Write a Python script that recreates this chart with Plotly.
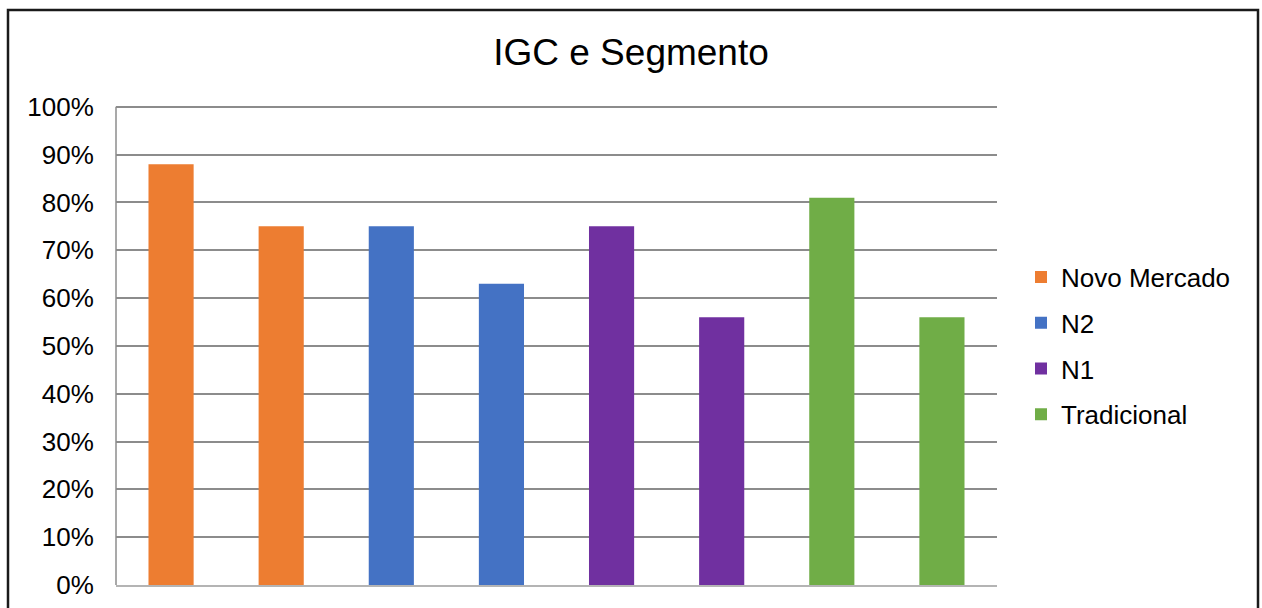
import plotly.graph_objects as go

# Segment shares of IGC companies, two bars per listing segment
series_names = ["Novo Mercado", "N2", "N1", "Tradicional"]
series_colors = ["#ED7D31", "#4472C4", "#7030A0", "#70AD47"]
categories = [1, 2, 3, 4, 5, 6, 7, 8]
series_x = [[1, 2], [3, 4], [5, 6], [7, 8]]
series_values = [[0.88, 0.75], [0.75, 0.63], [0.75, 0.56], [0.81, 0.56]]
y_ticks = [0, 0.1, 0.2, 0.3, 0.4, 0.5, 0.6, 0.7, 0.8, 0.9, 1.0]
y_tick_labels = ["0%", "10%", "20%", "30%", "40%", "50%", "60%", "70%", "80%", "90%", "100%"]

W, H = 1262, 608
Y_MAX = 1.01  # a little headroom so the 100% gridline is drawn
L, R, B = 116, 265, 23
T = round(H - B - 478 * Y_MAX)

fig = go.Figure()
for i, (name, color, xs, vals) in enumerate(zip(series_names, series_colors, series_x, series_values)):
    fig.add_trace(go.Bar(
        x=xs, y=vals, name=name, marker=dict(color=color, line=dict(width=0)),
        width=0.41, legendgroup=name,
    ))

pw = W - L - R
ph = H - T - B

def px_to_paper_x(px):
    return (px - L) / pw

def px_to_paper_y(py):
    return (H - B - py) / ph

fig.update_layout(
    width=W, height=H,
    margin=dict(l=L, r=R, t=T, b=B, autoexpand=False),
    paper_bgcolor="white", plot_bgcolor="white",
    barmode="overlay",
    font=dict(family="Arial, Liberation Sans, sans-serif", color="#000000", size=26),
    title=dict(text="IGC e Segmento", x=0.5, xanchor="center", xref="container",
               y=1 - 52 / H, yanchor="middle", yref="container",
               font=dict(size=37, color="#000000")),
    xaxis=dict(range=[0.5, 8.5], tickvals=categories, showticklabels=False,
               showgrid=False, zeroline=False, showline=True,
               linecolor="#b4b4b4", linewidth=2, ticks=""),
    yaxis=dict(range=[0, Y_MAX], tickvals=y_ticks, ticktext=y_tick_labels,
               showgrid=True, gridcolor="#8c8c8c", gridwidth=1.5,
               zeroline=False, showline=False,
               ticks="outside", ticklen=16, tickcolor="rgba(0,0,0,0)",
               tickfont=dict(size=26)),
    legend=dict(x=px_to_paper_x(1021), xanchor="left",
                y=px_to_paper_y(346), yanchor="middle",
                font=dict(size=26), tracegroupgap=9,
                traceorder="grouped", bgcolor="rgba(0,0,0,0)"),
    showlegend=True,
)

# Left value axis line, from 0% to 100%
fig.add_shape(type="line", xref="paper", yref="y", x0=0, x1=0, y0=0, y1=1.0,
              line=dict(color="#8c8c8c", width=1.5), layer="below")

# Chart frame around the whole figure
fig.add_shape(type="rect", xref="paper", yref="paper",
              x0=px_to_paper_x(8), x1=px_to_paper_x(1258),
              y0=px_to_paper_y(640), y1=px_to_paper_y(10),
              line=dict(color="#1a1a1a", width=2.5), fillcolor="rgba(0,0,0,0)",
              layer="above")

fig.write_html("out.html")
